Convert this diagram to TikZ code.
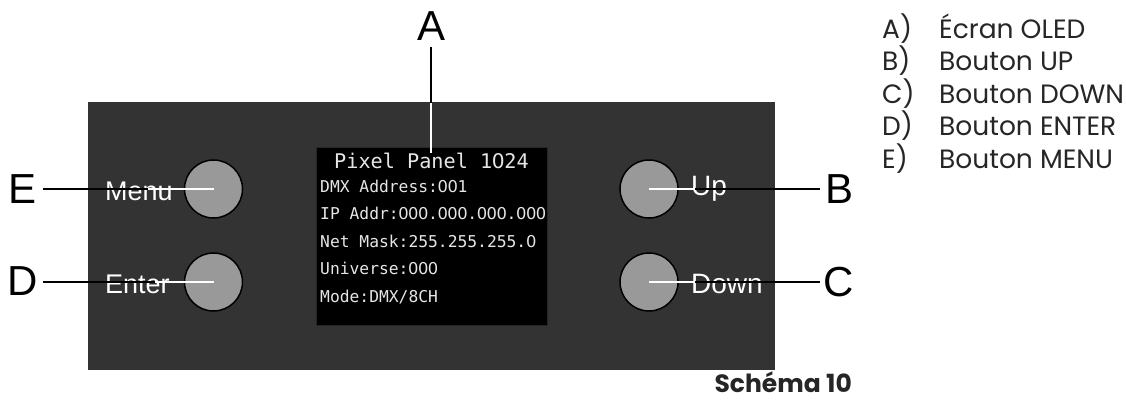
\documentclass[tikz,border=0pt]{standalone}
\usepackage{fontspec}
\setmainfont{Liberation Sans}
\newfontfamily\legendfont{Poppins}
\newfontfamily\oledfont{DejaVu Sans Mono}
\newfontfamily\oledzero{DejaVu Sans}
\definecolor{panelgrey}{HTML}{333333}
\definecolor{btngrey}{HTML}{999999}
\definecolor{oledtext}{HTML}{E6E6E6}
\newcommand{\Zr}{\makebox[0.602em]{\oledzero 0}}
\tikzset{
  x=1pt,y=-1pt,
  btn/.style={circle,draw=black,line width=1.5pt,fill=btngrey,minimum size=58pt,inner sep=0pt},
  callout/.style={font=\fontsize{42}{42}\selectfont,text=black,inner sep=0pt},
  panellabel/.style={font=\fontsize{28}{28}\selectfont,text=white,anchor=base west,inner sep=0pt},
  panellabelnarrow/.style={font=\fontsize{27}{27}\selectfont,text=white,anchor=base west,inner sep=0pt},
  oledtitle/.style={font=\oledfont\fontsize{20.2}{20.2}\selectfont,text=oledtext,anchor=base west,inner sep=0pt},
  oledline/.style={font=\oledfont\fontsize{16.3}{16.3}\selectfont,text=oledtext,anchor=base west,inner sep=0pt},
  legend/.style={font=\legendfont\fontsize{26.5}{26.5}\selectfont,text=black!85,anchor=base west,inner sep=0pt},
  darkline/.style={draw=black,line width=2.5pt},
  whiteline/.style={draw=white,line width=2.5pt}
}
\begin{document}
\begin{tikzpicture}
\useasboundingbox (0,0) rectangle (1126,399);
\fill[white] (0,0) rectangle (1126,399);
\fill[panelgrey] (88,102) rectangle (775,370);
\node[draw=black!85,fill=black,line width=.5pt,minimum width=231pt,minimum height=178pt,inner sep=0pt] (screen) at (431.5,236) {};

\node[btn] (menu) at (213.5,189) {};
\node[btn] (enter) at (213.5,282) {};
\node[btn] (up) at (649,189) {};
\node[btn] (down) at (649,282) {};

\node[panellabelnarrow] (menutxt) at (105,200) {Menu};
\node[panellabelnarrow] (entertxt) at (105,293) {Enter};
\node[panellabel] (uptxt) at (691,195) {Up};
\node[panellabel] (downtxt) at (691,293) {Down};

\node[oledtitle] (title) at (334,168) {Pixel Panel 1\Zr 24};
\node[oledline] (l1) at (320,192) {DMX Address:\Zr\Zr 1};
\node[oledline] (l2) at (320,219) {IP Addr:\Zr\Zr\Zr.\Zr\Zr\Zr.\Zr\Zr\Zr.\Zr\Zr\Zr};
\node[oledline] (l3) at (320,247) {Net Mask:255.255.255.\Zr};
\node[oledline] (l4) at (320,274) {Universe:\Zr\Zr\Zr};
\node[oledline] (l5) at (320,302) {Mode:DMX/8CH};

\node[callout] (A) at (431.5,26.5) {A};
\node[callout] (B) at (839,189.5) {B};
\node[callout] (C) at (838.5,282) {C};
\node[callout] (D) at (22.5,281) {D};
\node[callout] (E) at (22.5,189) {E};

\coordinate (atop) at (431,47);
\coordinate (aedge) at (431,103);
\coordinate (aend) at (431,153);
\coordinate (estart) at (43,189);
\coordinate (dstart) at (43,282);
\coordinate (bstart) at (820,189);
\coordinate (cstart) at (820,282);
\coordinate (ebreak) at (148,189);
\coordinate (dbreak) at (155,282);
\coordinate (bbreak) at (695,189);
\coordinate (cbreak) at (695,282);

\draw[darkline] (atop) -- (aedge);
\draw[whiteline] (aedge) -- (aend);
\draw[darkline] (estart) -- (ebreak);
\draw[whiteline] (ebreak) -- (menu.center);
\draw[darkline] (dstart) -- (dbreak);
\draw[whiteline] (dbreak) -- (enter.center);
\draw[darkline] (bstart) -- (bbreak);
\draw[whiteline] (bbreak) -- (up.center);
\draw[darkline] (cstart) -- (cbreak);
\draw[whiteline] (cbreak) -- (down.center);

\node[legend] (la) at (882,38) {A)};
\node[legend] (lb) at (882,70.5) {B)};
\node[legend] (lc) at (882,103) {C)};
\node[legend] (ld) at (882,135.5) {D)};
\node[legend] (le) at (882,168) {E)};
\node[legend] (ta) at (939,38) {Écran OLED};
\node[legend] (tb) at (939,70.5) {Bouton UP};
\node[legend] (tc) at (939,103) {Bouton DOWN};
\node[legend] (td) at (939,135.5) {Bouton ENTER};
\node[legend] (te) at (939,168) {Bouton MENU};
\node[font=\legendfont\bfseries\fontsize{25}{25}\selectfont,anchor=base east,inner sep=0pt,text=black!85] (cap) at (852,392) {Schéma 10};
\end{tikzpicture}
\end{document}
